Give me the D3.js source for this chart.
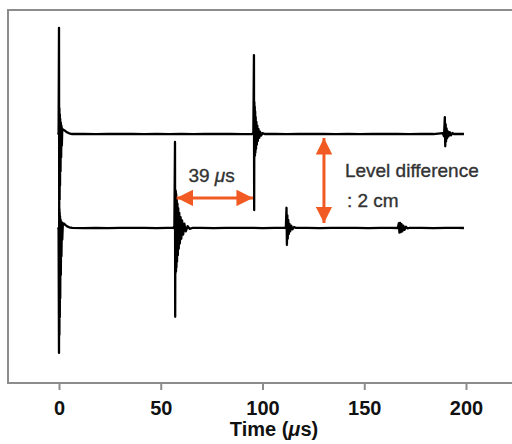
<!DOCTYPE html>
<html>
<head>
<meta charset="utf-8">
<script src="https://cdn.jsdelivr.net/npm/d3@7"></script>
<style>
  html, body { margin: 0; padding: 0; background: #fff; }
  text { font-family: "Liberation Sans", Arial, sans-serif; }
</style>
</head>
<body>
<div id="chart"></div>
<script>
// Tick values on the time axis (us)
const timeTicks = [0, 50, 100, 150, 200];

// Trace baselines (relative amplitude units)
const upperOffset = 10;
const lowerOffset = -10;

// Upper trace: [time (us), amplitude relative to its baseline]
const upperTrace = [
    [-0.8, 0], [-0.2, 0.1], [0.0, 22.6], [0.1, -17.5], [0.2, 5.5], [0.3, -14], [0.4, 4.2],
    [0.5, -11], [0.6, 3.2], [0.75, -8], [0.9, 2.4], [1.05, -5], [1.2, 1.8], [1.4, -2.5],
    [1.6, 1.2], [1.9, 0.9], [2.5, 0.85], [3.2, 0.6], [4.0, 0.35], [5.0, 0.15], [6.5, 0],
    [12, 0.04], [18, -0.04], [24, 0.04], [30, 0], [36, 0.05], [42, -0.04], [48, 0.04], [54, -0.03],
    [60, 0.04], [66, -0.04], [72, 0.04], [78, 0], [84, 0.04], [90, -0.03], [95.0, 0], [95.5, 0.3],
    [95.8, 16.8], [95.9, -16.2], [96.0, 6.8], [96.1, -4.9], [96.2, 5.8], [96.3, -4.5],
    [96.4, 4.8], [96.5, -4.0], [96.65, 3.6], [96.8, -3.2], [97.0, 2.6], [97.2, -2.3],
    [97.45, 1.8], [97.7, -1.5], [98.0, 1.1], [98.4, -0.8], [98.8, 0.5], [99.3, -0.35],
    [100.0, 0.2], [101, 0], [106, 0.04], [112, -0.04], [118, 0.04], [124, 0], [130, 0.04],
    [136, -0.04], [142, 0.04], [148, -0.03], [154, 0.04], [160, 0], [166, 0.04], [172, -0.04],
    [178, 0.04], [184, 0], [188.6, 0.2], [189.2, -0.5], [189.6, 3.6], [189.8, -2.6],
    [190.0, 2.1], [190.2, -1.6], [190.45, 1.2], [190.7, -0.9], [191.0, 0.6], [191.4, -0.5],
    [192.0, 0.4], [192.6, -0.3], [193.3, 0.2], [194, 0], [196, 0.04], [199, 0]
];

// Lower trace: [time (us), amplitude relative to its baseline]
const lowerTrace = [
    [-0.8, 0], [-0.2, -0.1], [0.0, -26.6], [0.1, 4.0], [0.2, -22.8], [0.3, 3.2], [0.4, -19],
    [0.5, 2.5], [0.6, -15], [0.75, 1.8], [0.9, -10], [1.05, 1.4], [1.2, -6], [1.4, 1.2],
    [1.6, -2.5], [1.9, 1.0], [2.5, 0.95], [3.2, 0.6], [4.0, 0.35], [5.0, 0.15], [6.5, 0],
    [12, -0.04], [18, 0.04], [24, -0.04], [30, 0.04], [36, 0], [42, 0.04], [48, -0.04], [53, 0.02],
    [56.2, 0], [56.7, 0.4], [57.0, 18.3], [57.1, -18.9], [57.2, 8.1], [57.3, -9.6],
    [57.4, 7.8], [57.5, -9.2], [57.6, 7.2], [57.7, -8.4], [57.85, 6.4], [58.0, -7.2],
    [58.2, 5.2], [58.4, -5.8], [58.6, 4.2], [58.85, -4.4], [59.1, 3.2], [59.4, -3.3],
    [59.75, 2.3], [60.1, -2.3], [60.5, 1.6], [61.0, -1.4], [61.6, 0.9], [62.3, -0.7],
    [63.2, 0.4], [64.2, -0.2], [65.5, 0], [70, 0.04], [76, -0.04], [82, 0.04], [88, 0],
    [94, 0.04], [100, -0.04], [106, 0.04], [111.2, 0], [111.5, 0.3], [111.8, 4.3], [112.0, -3.6],
    [112.2, 2.7], [112.4, -2.3], [112.65, 1.7], [112.9, -1.3], [113.2, 0.9], [113.6, -0.7],
    [114.1, 0.5], [114.7, -0.3], [115.5, 0.2], [116.5, 0], [122, 0.04], [128, -0.04],
    [134, 0.04], [140, 0], [146, 0.04], [152, -0.04], [158, 0.04], [163, 0], [166.5, 0],
    [167.0, 1.0], [167.3, -1.0], [167.6, 1.1], [167.9, -0.9], [168.3, 0.8], [168.7, -0.7],
    [169.2, 0.5], [169.8, -0.4], [170.5, 0.25], [171.3, -0.1], [172, 0], [178, 0.04],
    [184, -0.04], [190, 0.04], [196, 0], [199, 0]
];

// Annotations
const delayArrow = { t0: 57.8, t1: 95.3, v: -3.6 };     // 39 us time of flight
const levelArrow = { t: 130.2, v0: 9.15, v1: -8.95 };   // 2 cm level difference

const width = 512;
const height = 444;
const frame = { left: 8, top: 10, bottom: 383 };
const orange = "#f15a22";

const svg = d3.select("#chart").append("svg")
    .attr("width", width)
    .attr("height", height)
    .style("background-color", "#fff");

// Scales
const x = d3.scaleLinear().domain([0, 200]).range([59, 466]);
const y = d3.scaleLinear().domain([-43, 36.4]).range([frame.bottom, frame.top]);

// Plot frame (right side runs off the image)
svg.append("rect")
    .attr("x", frame.left)
    .attr("y", frame.top)
    .attr("width", 540)
    .attr("height", frame.bottom - frame.top)
    .attr("fill", "none")
    .attr("stroke", "#8c8c8c")
    .attr("stroke-width", 2);

// X axis
const xAxis = svg.append("g")
    .attr("transform", `translate(0,${frame.bottom})`)
    .call(d3.axisBottom(x).tickValues(timeTicks).tickSize(7).tickPadding(11));

xAxis.select(".domain").remove();
xAxis.selectAll(".tick line").attr("stroke", "#8c8c8c").attr("stroke-width", 2);
xAxis.selectAll(".tick text")
    .attr("fill", "#111")
    .style("font-size", "20px")
    .style("font-weight", "bold")
    .style("font-family", "'Liberation Sans', Arial, sans-serif");

// Axis title
const title = svg.append("text")
    .attr("x", 274)
    .attr("y", 436)
    .attr("text-anchor", "middle")
    .attr("fill", "#111")
    .style("font-size", "20px")
    .style("font-weight", "bold");
title.append("tspan").text("Time (");
title.append("tspan").style("font-style", "italic").text("μ");
title.append("tspan").text("s)");

// Traces
const line = offset => d3.line()
    .x(d => x(d[0]))
    .y(d => y(d[1] + offset));

[[upperTrace, upperOffset], [lowerTrace, lowerOffset]].forEach(([trace, offset]) => {
    svg.append("path")
        .datum(trace)
        .attr("d", line(offset))
        .attr("fill", "none")
        .attr("stroke", "#000")
        .attr("stroke-width", 2.3)
        .attr("stroke-linejoin", "round");
});

// Arrow heads
const defs = svg.append("defs");
defs.append("marker")
    .attr("id", "head")
    .attr("viewBox", "0 0 10 10")
    .attr("refX", 10)
    .attr("refY", 5)
    .attr("markerWidth", 5.5)
    .attr("markerHeight", 5.5)
    .attr("markerUnits", "strokeWidth")
    .attr("orient", "auto-start-reverse")
    .append("path")
    .attr("d", "M0,0 L10,5 L0,10 Z")
    .attr("fill", orange);

svg.append("line")
    .attr("x1", x(delayArrow.t0))
    .attr("x2", x(delayArrow.t1))
    .attr("y1", y(delayArrow.v))
    .attr("y2", y(delayArrow.v))
    .attr("stroke", orange)
    .attr("stroke-width", 3)
    .attr("marker-start", "url(#head)")
    .attr("marker-end", "url(#head)");

svg.append("line")
    .attr("x1", x(levelArrow.t))
    .attr("x2", x(levelArrow.t))
    .attr("y1", y(levelArrow.v0))
    .attr("y2", y(levelArrow.v1))
    .attr("stroke", orange)
    .attr("stroke-width", 3)
    .attr("marker-start", "url(#head)")
    .attr("marker-end", "url(#head)");

// Annotation labels
const labelStyle = sel => sel
    .attr("fill", "#333")
    .attr("stroke", "#333")
    .attr("stroke-width", 0.35)
    .style("font-size", "19px");

const delayLabel = svg.append("text")
    .attr("x", x(63.6))
    .attr("y", 182)
    .call(labelStyle);
delayLabel.append("tspan").text("39 ");
delayLabel.append("tspan").style("font-style", "italic").text("μ");
delayLabel.append("tspan").text("s");

svg.append("text")
    .attr("x", x(140.5))
    .attr("y", 177)
    .call(labelStyle)
    .text("Level difference");

svg.append("text")
    .attr("x", x(141.5))
    .attr("y", 207)
    .call(labelStyle)
    .text(": 2 cm");
</script>
</body>
</html>
